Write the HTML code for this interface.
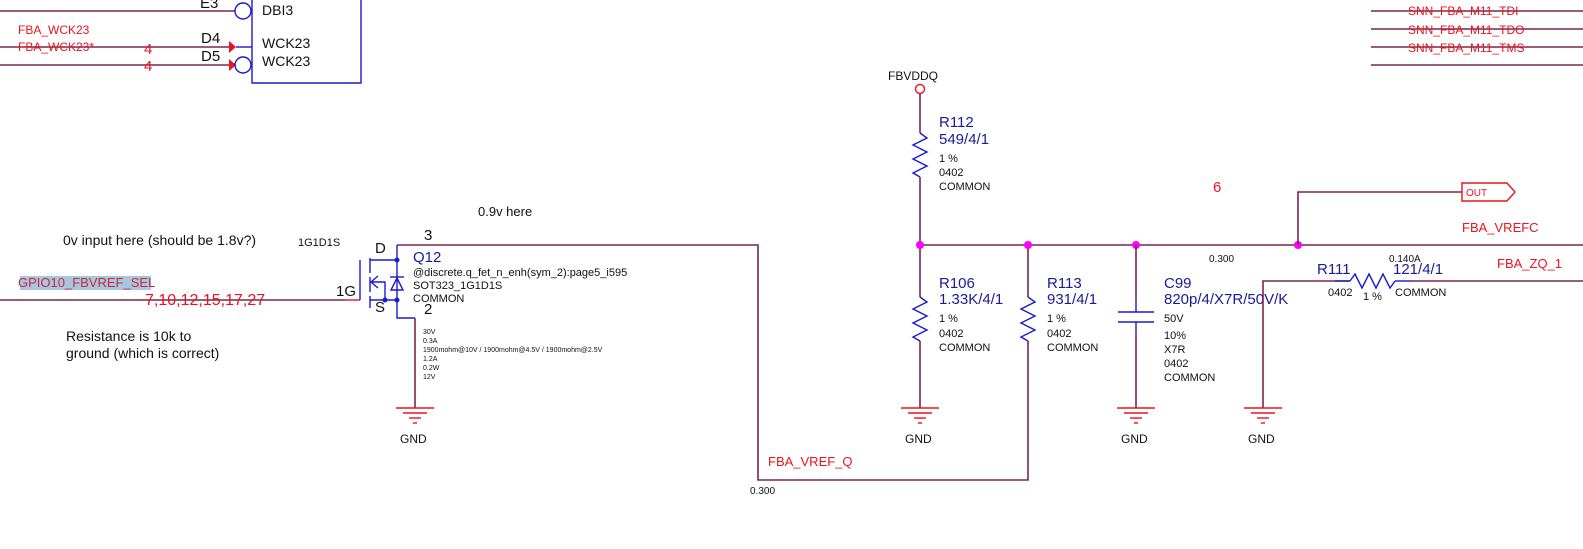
<!DOCTYPE html>
<html><head><meta charset="utf-8"><style>
html,body{margin:0;padding:0;background:#fff;}
svg{display:block;font-family:"Liberation Sans",sans-serif;}
.w{stroke:#7a2650;stroke-width:1.6;fill:none}
.b{stroke:#1a1ad0;stroke-width:1.4;fill:none}
.r{stroke:#e8141e;stroke-width:1.4;fill:none}
.bt{fill:#1a1a9a}
.rt{fill:#e8141e}
.k{fill:#111}
</style></head><body>
<svg width="1583" height="549" viewBox="0 0 1583 549">
<defs>
<g id="gnd">
<line x1="-19" y1="0" x2="19" y2="0" class="r"/>
<line x1="-12" y1="5" x2="12" y2="5" class="r"/>
<line x1="-6" y1="10" x2="6" y2="10" class="r"/>
<line x1="-2" y1="15" x2="2" y2="15" class="r"/>
</g>
<polyline id="zz" points="0,0 7,5 -7,12 7,19 -7,26 7,33 -7,40 0,44" class="b"/>
</defs>

<line x1="0" y1="11" x2="235" y2="11" class="w"/>
<circle cx="243" cy="11" r="8" class="b"/>
<text x="200" y="8" font-size="15" class="k">E3</text>
<text x="262" y="15" font-size="14" class="k">DBI3</text>
<polyline points="252,0 252,83 361,83 361,0" class="b"/>
<text x="18" y="34" font-size="12" class="rt">FBA_WCK23</text>
<line x1="0" y1="47" x2="230" y2="47" class="w"/>
<line x1="236" y1="47" x2="252" y2="47" class="b"/>
<polygon points="229,41 236,47 229,53" fill="#e8141e"/>
<text x="18" y="51" font-size="12" class="rt">FBA_WCK23*</text>
<text x="144" y="54" font-size="15" class="rt">4</text>
<text x="201" y="43" font-size="15" class="k">D4</text>
<text x="262" y="48" font-size="14" class="k">WCK23</text>
<line x1="0" y1="65" x2="230" y2="65" class="w"/>
<polygon points="229,59 236,65 229,71" fill="#e8141e"/>
<circle cx="243" cy="65" r="8" class="b"/>
<text x="144" y="71" font-size="15" class="rt">4</text>
<text x="201" y="61" font-size="15" class="k">D5</text>
<text x="262" y="66" font-size="14" class="k">WCK23</text>

<line x1="1371" y1="11" x2="1583" y2="11" class="w"/>
<line x1="1371" y1="29" x2="1583" y2="29" class="w"/>
<line x1="1371" y1="47" x2="1583" y2="47" class="w"/>
<line x1="1371" y1="65" x2="1583" y2="65" class="w"/>
<text x="1408" y="15" font-size="12" class="rt">SNN_FBA_M11_TDI</text>
<text x="1408" y="34" font-size="12" class="rt">SNN_FBA_M11_TDO</text>
<text x="1408" y="52" font-size="12" class="rt">SNN_FBA_M11_TMS</text>

<text x="63" y="245" font-size="14" class="k">0v input here (should be 1.8v?)</text>
<rect x="20" y="276" width="131" height="14" fill="#a9c6de"/>
<text x="18" y="287" font-size="13" fill="#c8283c">GPIO10_FBVREF_SEL</text>
<line x1="0" y1="300" x2="345" y2="300" class="w"/>
<line x1="345" y1="300" x2="360" y2="300" class="r"/>
<text x="145" y="305" font-size="16" class="rt">7,10,12,15,17,27</text>
<text x="66" y="341" font-size="14" class="k">Resistance is 10k to</text>
<text x="66" y="358" font-size="14" class="k">ground (which is correct)</text>
<text x="478" y="216" font-size="13" class="k">0.9v here</text>

<text x="298" y="246" font-size="11" class="k">1G1D1S</text>
<text x="336" y="296" font-size="15" class="k">1G</text>
<line x1="360" y1="260" x2="360" y2="300" class="b"/>
<line x1="370" y1="258" x2="370" y2="273" class="b"/>
<line x1="370" y1="277" x2="370" y2="292" class="b"/>
<line x1="370" y1="296" x2="370" y2="308" class="b"/>
<line x1="370" y1="260" x2="397" y2="260" class="b"/>
<line x1="370" y1="300" x2="397" y2="300" class="b"/>
<polyline points="370,282 385,282 385,300" class="b"/>
<polyline points="378,276 371,282 378,288" class="b"/>
<polyline points="397,245 397,318 415,318" class="b"/>
<polygon points="391,290 403,290 397,278" class="b"/>
<line x1="390" y1="277" x2="404" y2="277" class="b"/>
<circle cx="397" cy="260" r="2.5" fill="#1a1ad0"/>
<circle cx="397" cy="300" r="2.5" fill="#1a1ad0"/>
<circle cx="385" cy="300" r="2.5" fill="#1a1ad0"/>
<text x="375" y="253" font-size="15" class="k">D</text>
<text x="375" y="312" font-size="15" class="k">S</text>
<text x="424" y="240" font-size="15" class="k">3</text>
<text x="424" y="314" font-size="15" class="k">2</text>
<text x="413" y="262" font-size="15" class="bt">Q12</text>
<text x="413" y="276" font-size="11" class="k">@discrete.q_fet_n_enh(sym_2):page5_i595</text>
<text x="413" y="289" font-size="11" class="k">SOT323_1G1D1S</text>
<text x="413" y="302" font-size="11" class="k">COMMON</text>
<g font-size="7" class="k">
<text x="423" y="334">30V</text><text x="423" y="343">0.3A</text>
<text x="423" y="352">1900mohm@10V / 1900mohm@4.5V / 1900mohm@2.5V</text>
<text x="423" y="361">1.2A</text><text x="423" y="370">0.2W</text><text x="423" y="379">12V</text>
</g>
<line x1="415" y1="318" x2="415" y2="408" class="w"/>
<use href="#gnd" x="415" y="408"/>
<text x="400" y="443" font-size="12" class="k">GND</text>

<polyline points="397,245 758,245 758,480 1028,480 1028,245" class="w"/>
<text x="768" y="466" font-size="13" class="rt">FBA_VREF_Q</text>
<text x="750" y="494" font-size="10" class="k">0.300</text>

<text x="888" y="80" font-size="12" class="k">FBVDDQ</text>
<circle cx="920" cy="89" r="4.5" class="r"/>
<line x1="920" y1="94" x2="920" y2="133" class="w"/>
<use href="#zz" x="920" y="133"/>
<line x1="920" y1="177" x2="920" y2="408" class="w"/>
<text x="939" y="127" font-size="15" class="bt">R112</text>
<text x="939" y="144" font-size="15" class="bt">549/4/1</text>
<text x="939" y="162" font-size="11" class="k">1 %</text>
<text x="939" y="176" font-size="11" class="k">0402</text>
<text x="939" y="190" font-size="11" class="k">COMMON</text>

<line x1="920" y1="245" x2="1583" y2="245" class="w"/>
<circle cx="920" cy="245" r="4" fill="#f0f"/>
<circle cx="1028" cy="245" r="4" fill="#f0f"/>
<circle cx="1136" cy="245" r="4" fill="#f0f"/>
<circle cx="1298" cy="245" r="4" fill="#f0f"/>
<text x="1209" y="262" font-size="10" class="k">0.300</text>
<text x="1213" y="192" font-size="15" class="rt">6</text>

<rect x="912" y="297" width="16" height="44" fill="#fff"/>
<use href="#zz" x="920" y="297"/>
<use href="#gnd" x="920" y="408"/>
<text x="905" y="443" font-size="12" class="k">GND</text>
<text x="939" y="288" font-size="15" class="bt">R106</text>
<text x="939" y="304" font-size="15" class="bt">1.33K/4/1</text>
<text x="939" y="322" font-size="11" class="k">1 %</text>
<text x="939" y="337" font-size="11" class="k">0402</text>
<text x="939" y="351" font-size="11" class="k">COMMON</text>

<rect x="1020" y="297" width="16" height="44" fill="#fff"/>
<use href="#zz" x="1028" y="297"/>
<text x="1047" y="288" font-size="15" class="bt">R113</text>
<text x="1047" y="304" font-size="15" class="bt">931/4/1</text>
<text x="1047" y="322" font-size="11" class="k">1 %</text>
<text x="1047" y="337" font-size="11" class="k">0402</text>
<text x="1047" y="351" font-size="11" class="k">COMMON</text>

<line x1="1136" y1="245" x2="1136" y2="300" class="w"/>
<line x1="1136" y1="300" x2="1136" y2="312" class="b"/>
<line x1="1118" y1="312" x2="1154" y2="312" class="b"/>
<line x1="1118" y1="322" x2="1154" y2="322" class="b"/>
<line x1="1136" y1="322" x2="1136" y2="335" class="b"/>
<line x1="1136" y1="335" x2="1136" y2="408" class="w"/>
<use href="#gnd" x="1136" y="408"/>
<text x="1121" y="443" font-size="12" class="k">GND</text>
<text x="1164" y="288" font-size="15" class="bt">C99</text>
<text x="1164" y="304" font-size="15" class="bt">820p/4/X7R/50V/K</text>
<text x="1164" y="322" font-size="11" class="k">50V</text>
<text x="1164" y="339" font-size="11" class="k">10%</text>
<text x="1164" y="353" font-size="11" class="k">X7R</text>
<text x="1164" y="367" font-size="11" class="k">0402</text>
<text x="1164" y="381" font-size="11" class="k">COMMON</text>

<polyline points="1298,245 1298,192 1462,192" class="w"/>
<polygon points="1462,183 1507,183 1515,192 1507,201 1462,201" class="r"/>
<text x="1466" y="196" font-size="10" class="rt">OUT</text>
<text x="1462" y="232" font-size="13" class="rt">FBA_VREFC</text>
<text x="1389" y="262" font-size="10" class="k">0.140A</text>
<text x="1497" y="268" font-size="13" class="rt">FBA_ZQ_1</text>

<polyline points="1263,408 1263,281 1350,281" class="w"/>
<line x1="1335" y1="281" x2="1350" y2="281" class="b"/>
<polyline points="1350,281 1355,274 1362,288 1369,274 1376,288 1383,274 1390,288 1395,281" class="b"/>
<line x1="1395" y1="281" x2="1410" y2="281" class="b"/>
<line x1="1410" y1="281" x2="1583" y2="281" class="w"/>
<use href="#gnd" x="1263" y="408"/>
<text x="1248" y="443" font-size="12" class="k">GND</text>
<text x="1317" y="274" font-size="15" class="bt">R111</text>
<text x="1393" y="274" font-size="15" class="bt">121/4/1</text>
<text x="1328" y="296" font-size="11" class="k">0402</text>
<text x="1363" y="300" font-size="11" class="k">1 %</text>
<text x="1395" y="296" font-size="11" class="k">COMMON</text>
</svg>
</body></html>
